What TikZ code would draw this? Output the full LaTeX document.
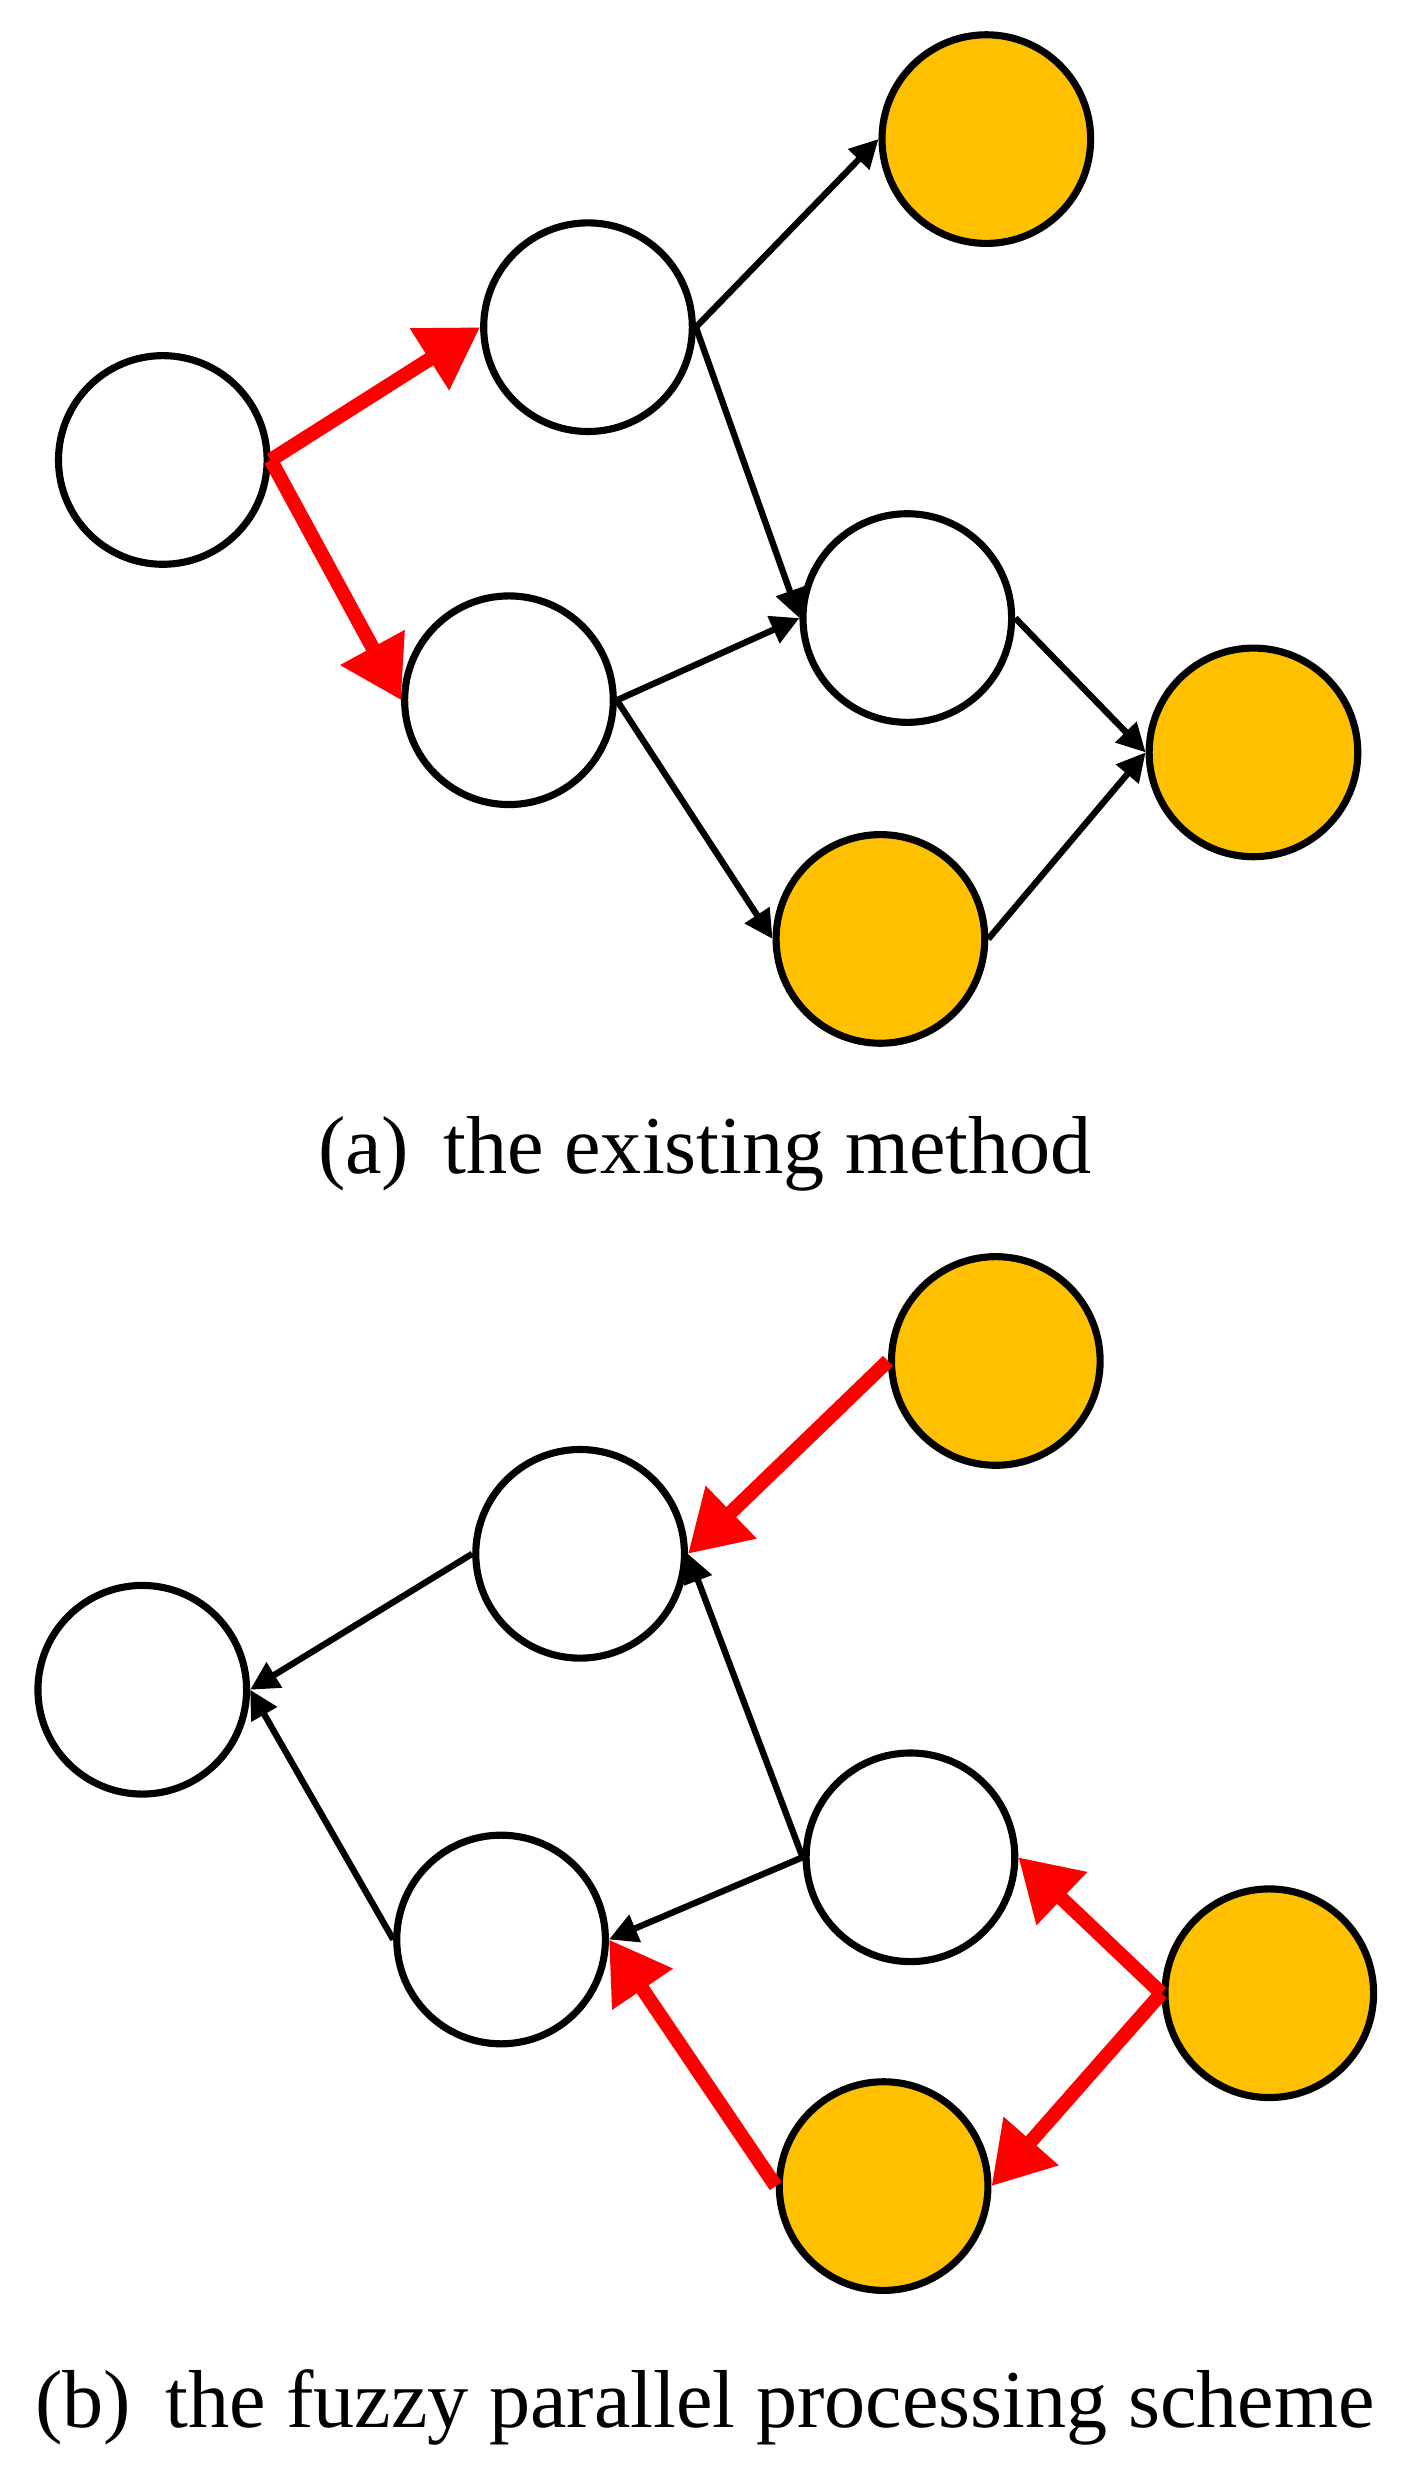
\documentclass[tikz,border=0pt]{standalone}
\usepackage{fontspec}
\setmainfont{Liberation Serif}
\usetikzlibrary{arrows.meta}
\definecolor{gold}{RGB}{255,192,0}
\begin{document}
\begin{tikzpicture}[x=1pt,y=-1pt,
  c/.style={circle,draw=black,line width=4.5pt,minimum size=132pt,inner sep=0pt},
  o/.style={c,fill=gold},
  w/.style={c,fill=white},
  blk/.style={line width=4pt,-{Triangle[length=18pt,width=18pt]}},
  red/.style={draw=red,line width=9pt,-{Triangle[length=38pt,width=44pt]}},
  lab/.style={font=\fontsize{52}{60}\selectfont}]
\useasboundingbox (0,0) rectangle (893,1562);
% (a)
\node[w] (a1) at (103,291) {};
\node[w] (a2) at (372,207) {};
\node[w] (a3) at (322,443) {};
\node[o] (a4) at (624,88) {};
\node[w] (a5) at (574,391) {};
\node[o] (a6) at (557,594) {};
\node[o] (a7) at (793,476) {};
\draw[red] (a1.east) -- (a2.west);
\draw[red] (a1.east) -- (a3.west);
\draw[blk] (a2.east) -- (a4.west);
\draw[blk] (a2.east) -- (a5.west);
\draw[blk] (a3.east) -- (a5.west);
\draw[blk] (a3.east) -- (a6.west);
\draw[blk] (a5.east) -- (a7.west);
\draw[blk] (a6.east) -- (a7.west);
\node[lab] (ca) at (446,730) {(a)\, the existing method};
% (b)
\node[w] (b1) at (90,1069) {};
\node[w] (b2) at (367,983) {};
\node[w] (b3) at (317,1227) {};
\node[o] (b4) at (630,861) {};
\node[w] (b5) at (576,1175) {};
\node[o] (b6) at (559,1383) {};
\node[o] (b7) at (803,1261) {};
\draw[blk] (b2.west) -- (b1.east);
\draw[blk] (b3.west) -- (b1.east);
\draw[blk] (b5.west) -- (b2.east);
\draw[blk] (b5.west) -- (b3.east);
\draw[red] (b4.west) -- (b2.east);
\draw[red] (b6.west) -- (b3.east);
\draw[red] (b7.west) -- (b5.east);
\draw[red] (b7.west) -- (b6.east);
\node[lab] (cb) at (446,1523) {(b)\, the fuzzy parallel processing scheme};
\end{tikzpicture}
\end{document}
